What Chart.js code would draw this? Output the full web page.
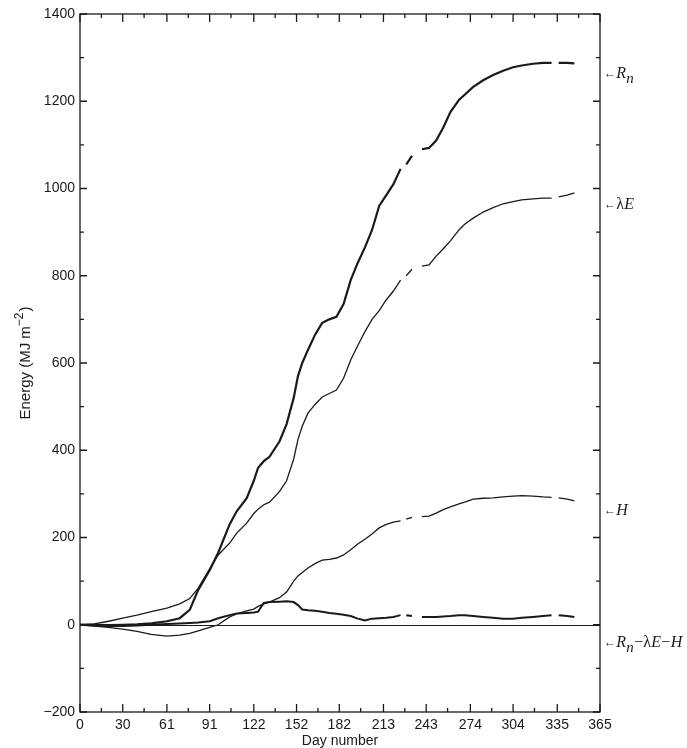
<!DOCTYPE html>
<html>
<head>
<meta charset="utf-8">
<script src="https://cdn.jsdelivr.net/npm/chart.js@4.4.1/dist/chart.umd.min.js"></script>
<style>
  html, body { margin: 0; padding: 0; background: #fff; }
  #wrap { width: 687px; height: 748px; position: relative; }
</style>
</head>
<body>
<div id="wrap"><canvas id="energyChart"></canvas></div>
<script>
// day numbers shared by all series (null values mark gaps in the record)
const days = [0, 10, 20, 30, 40, 50, 61, 70, 77, 83, 91, 97, 105, 110, 117, 122, 125, 129, 133, 140,
  145, 150, 153, 156, 160, 165, 170, 175, 180, 185, 190, 195, 200, 205, 210, 215, 220, 225, 227, 229,
  233, 236, 240, 245, 250, 255, 260, 266, 270, 276, 283, 290, 297, 304, 310, 318, 325, 331, 333, 336,
  342, 347];

const netRadiation = [0, 0, -1, 0, 1, 3, 8, 15, 34, 80, 125, 165, 230, 260, 290, 330, 360, 375, 385, 420,
  460, 520, 570, 600, 630, 665, 692, 700, 706, 735, 790, 830, 865, 905, 960, 985, 1010, 1045, null, 1055,
  1075, null, 1090, 1093, 1110, 1140, 1175, 1203, 1215, 1233, 1248, 1260, 1270, 1278, 1282, 1286, 1288, 1288, null, 1288,
  1288, 1287];

const latentHeat = [0, 2, 8, 15, 22, 30, 38, 48, 60, 84, 128, 160, 187, 210, 233, 255, 265, 275, 281, 305,
  330, 380, 425, 455, 485, 505, 522, 530, 538, 565, 607, 640, 672, 700, 720, 745, 765, 790, null, 800,
  815, null, 822, 825, 845, 862, 880, 905, 918, 932, 946, 956, 965, 970, 974, 976, 978, 978, null, 981,
  985, 990];

const sensibleHeat = [0, -3, -6, -10, -15, -22, -26, -24, -20, -14, -6, 0, 18, 25, 32, 36, 42, 48, 52, 62,
  75, 100, 112, 120, 130, 140, 148, 150, 153, 160, 172, 185, 196, 208, 222, 230, 235, 238, null, 242,
  246, null, 248, 249, 256, 264, 270, 277, 281, 288, 290, 291, 293, 295, 296, 295, 293, 292, null, 291,
  288, 284];

const residual = [0, -2, -3, -3, -2, 0, 2, 3, 4, 5, 8, 15, 22, 26, 27, 28, 30, 50, 52, 53,
  54, 52, 45, 35, 33, 32, 30, 27, 25, 23, 20, 14, 10, 14, 15, 16, 18, 22, null, 22,
  20, null, 18, 18, 18, 19, 20, 22, 22, 20, 18, 16, 14, 14, 16, 18, 20, 22, null, 22,
  20, 18];

// axis ticks
const monthTicks = [0, 30, 61, 91, 122, 152, 182, 213, 243, 274, 304, 335, 365];
const midMonthTicks = [15, 45, 76, 106, 137, 167, 197, 228, 258, 289, 319, 350];
const energyTicks = [-200, 0, 200, 400, 600, 800, 1000, 1200, 1400];
const energyMinorTicks = [-100, 100, 300, 500, 700, 900, 1100, 1300];

// where each curve's name sits on the right margin
const curveLabelValues = [1265, 965, 263, -40];

const ink = "#1a1a1a";
const toPoints = (vals) => days.map((d, i) => ({ x: d, y: vals[i] }));

// frame with inward ticks on all four sides plus the zero line
const framePlugin = {
  id: "frame",
  afterDatasetsDraw(chart) {
    const { ctx, chartArea: a, scales: { x, y } } = chart;
    ctx.save();
    ctx.strokeStyle = ink;
    ctx.lineWidth = 1;

    const y0 = Math.round(y.getPixelForValue(0)) + 0.5;
    ctx.beginPath();
    ctx.moveTo(a.left, y0);
    ctx.lineTo(a.right, y0);
    ctx.stroke();

    ctx.lineWidth = 1.3;
    ctx.strokeRect(a.left, a.top, a.right - a.left, a.bottom - a.top);

    ctx.beginPath();
    const xTick = (v, len) => {
      const px = x.getPixelForValue(v);
      ctx.moveTo(px, a.bottom); ctx.lineTo(px, a.bottom - len);
      ctx.moveTo(px, a.top); ctx.lineTo(px, a.top + len);
    };
    const yTick = (v, len) => {
      const py = y.getPixelForValue(v);
      ctx.moveTo(a.left, py); ctx.lineTo(a.left + len, py);
      ctx.moveTo(a.right, py); ctx.lineTo(a.right - len, py);
    };
    monthTicks.forEach((v) => xTick(v, 8));
    midMonthTicks.forEach((v) => xTick(v, 4));
    energyTicks.forEach((v) => yTick(v, 7));
    energyMinorTicks.forEach((v) => yTick(v, 4));
    ctx.stroke();
    ctx.restore();
  },
};

// axis titles and right-hand curve names
const textPlugin = {
  id: "texts",
  afterDraw(chart) {
    const { ctx, chartArea: a, scales: { y } } = chart;
    ctx.save();
    ctx.fillStyle = ink;
    ctx.textBaseline = "alphabetic";

    // x title
    ctx.font = '14px "Liberation Sans", Arial, sans-serif';
    ctx.textAlign = "center";
    ctx.fillText("Day number", (a.left + a.right) / 2, 745);

    // y title with superscript
    const main = '15px "Liberation Sans", Arial, sans-serif';
    const sup = '12px "Liberation Sans", Arial, sans-serif';
    ctx.textAlign = "left";
    ctx.font = main;
    const w1 = ctx.measureText("Energy (MJ m").width;
    const w3 = ctx.measureText(")").width;
    ctx.font = sup;
    const w2 = ctx.measureText("\u22122").width;
    const total = w1 + w2 + w3 + 1;
    ctx.translate(30, (a.top + a.bottom) / 2);
    ctx.rotate(-Math.PI / 2);
    let cx = -total / 2;
    ctx.font = main;
    ctx.fillText("Energy (MJ m", cx, 0);
    cx += w1;
    ctx.font = sup;
    ctx.fillText("\u22122", cx, -7);
    cx += w2 + 1;
    ctx.font = main;
    ctx.fillText(")", cx, 0);
    ctx.setTransform(1, 0, 0, 1, 0, 0);
    ctx.scale(chart.currentDevicePixelRatio, chart.currentDevicePixelRatio);

    // curve names
    const arrow = { t: "\u2190", f: '12px "Liberation Serif", serif', dy: -1 };
    const it = (t) => ({ t, f: 'italic 16px "Liberation Serif", serif', dy: 0 });
    const sub = (t) => ({ t, f: 'italic 15px "Liberation Serif", serif', dy: 5 });
    const rm = (t) => ({ t, f: '16px "Liberation Serif", serif', dy: 0 });
    const names = [
      [arrow, it("R"), sub("n")],
      [arrow, rm("\u03bb"), it("E")],
      [arrow, it("H")],
      [arrow, it("R"), sub("n"), rm("\u2212\u03bb"), it("E"), rm("\u2212"), it("H")],
    ];
    names.forEach((runs, i) => {
      let px = a.right + 4;
      const py = y.getPixelForValue(curveLabelValues[i]) + 5;
      runs.forEach((r) => {
        ctx.font = r.f;
        ctx.fillText(r.t, px, py + r.dy);
        px += ctx.measureText(r.t).width + 0.3;
      });
    });
    ctx.restore();
  },
};

const lineSet = (label, vals, width) => ({
  label,
  data: toPoints(vals),
  borderColor: ink,
  borderWidth: width,
  pointRadius: 0,
  tension: 0,
  spanGaps: false,
  fill: false,
});

new Chart(document.getElementById("energyChart"), {
  type: "line",
  data: {
    datasets: [
      lineSet("Rn", netRadiation, 2.2),
      lineSet("λE", latentHeat, 1.3),
      lineSet("H", sensibleHeat, 1.3),
      lineSet("Rn−λE−H", residual, 2),
    ],
  },
  options: {
    responsive: true,
    maintainAspectRatio: false,
    animation: false,
    layout: { padding: { left: 0, right: 87, top: 14, bottom: 0 } },
    plugins: { legend: { display: false }, tooltip: { enabled: false } },
    scales: {
      x: {
        type: "linear",
        min: 0,
        max: 365,
        grid: { display: false, drawTicks: false },
        border: { display: false },
        afterBuildTicks: (s) => { s.ticks = monthTicks.map((v) => ({ value: v })); },
        afterFit: (s) => { s.height = 36; },
        ticks: {
          padding: 5,
          maxRotation: 0,
          autoSkip: false,
          color: ink,
          font: { family: '"Liberation Sans", Arial, sans-serif', size: 14 },
          callback: (v) => String(v),
        },
      },
      y: {
        min: -200,
        max: 1400,
        grid: { display: false, drawTicks: false },
        border: { display: false },
        afterBuildTicks: (s) => { s.ticks = energyTicks.map((v) => ({ value: v })); },
        afterFit: (s) => { s.width = 80; },
        ticks: {
          padding: 5,
          color: ink,
          font: { family: '"Liberation Sans", Arial, sans-serif', size: 14 },
          callback: (v) => (v < 0 ? "\u2212" + Math.abs(v) : String(v)),
        },
      },
    },
  },
  plugins: [framePlugin, textPlugin],
});
</script>
</body>
</html>
